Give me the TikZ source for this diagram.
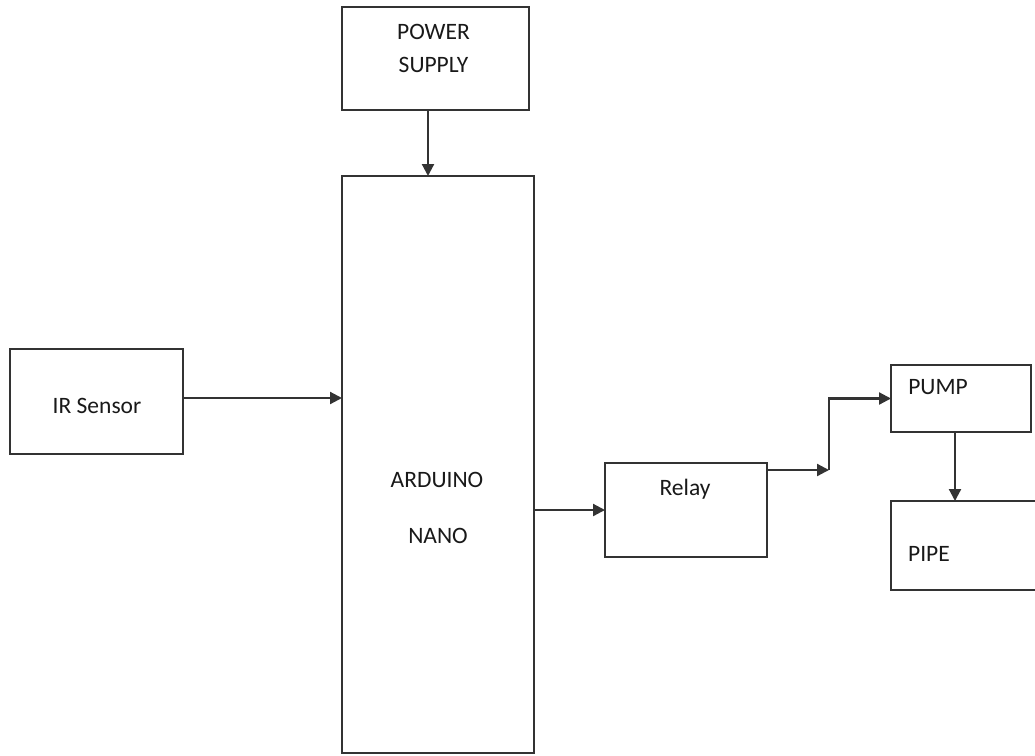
\documentclass[tikz,border=0pt]{standalone}
\usepackage{fontspec}
\setmainfont{Carlito}
\usetikzlibrary{arrows.meta,calc}
\begin{document}
\begin{tikzpicture}[x=1pt,y=-1pt,
  box/.style={draw=black!80,line width=2.2pt,rectangle,inner sep=0pt,outer sep=0pt},
  lbl/.style={anchor=base,inner sep=0pt,text=black!90,font=\fontsize{23.5}{28}\selectfont},
  arr/.style={draw=black!80,line width=2.2pt,-{Triangle[length=12pt,width=12pt]}}]
\useasboundingbox (0,0) rectangle (1035,755);
\clip (0,0) rectangle (1035,755);
\fill[white] (0,0) rectangle (1035,755);
% boxes
\node[box,minimum width=187pt,minimum height=103pt] (ps) at (435.5,58.5) {};
\node[box,minimum width=192pt,minimum height=577pt] (ard) at (438,464.5) {};
\node[box,minimum width=173pt,minimum height=105pt] (ir) at (96.5,401.5) {};
\node[box,minimum width=162pt,minimum height=94pt] (rel) at (686,510) {};
\node[box,minimum width=140pt,minimum height=67pt] (pump) at (961,398.5) {};
\node[box,minimum width=154pt,minimum height=89pt] (pipe) at (968,545.5) {};
% labels
\node[lbl] (t1) at (433.5,39) {POWER};
\node[lbl] (t2) at (433.5,72) {SUPPLY};
\node[lbl] (t3) at (97,413) {IR Sensor};
\node[lbl] (t4) at (437,487) {ARDUINO};
\node[lbl] (t5) at (438,543) {NANO};
\node[lbl] (t6) at (685,495) {Relay};
\node[lbl] (t7) at (938,394) {PUMP};
\node[lbl] (t8) at (929,561) {PIPE};
% connectors
\draw[arr] ([xshift=-7.5pt]ps.south) -- ([xshift=-7.5pt]ps.south |- ard.north);
\draw[arr] ([yshift=3.5pt]ir.east) -- ([yshift=3.5pt]ir.east -| ard.west);
\draw[arr] (ard.east |- rel.west) -- (rel.west);
\coordinate (j) at (829,470);
\draw[arr] (rel.east |- j) -- (j);
\draw[arr] (j) |- (pump.west);
\draw[arr] ([xshift=-6pt]pump.south) -- ([xshift=-6pt]pump.south |- pipe.north);
\end{tikzpicture}
\end{document}
